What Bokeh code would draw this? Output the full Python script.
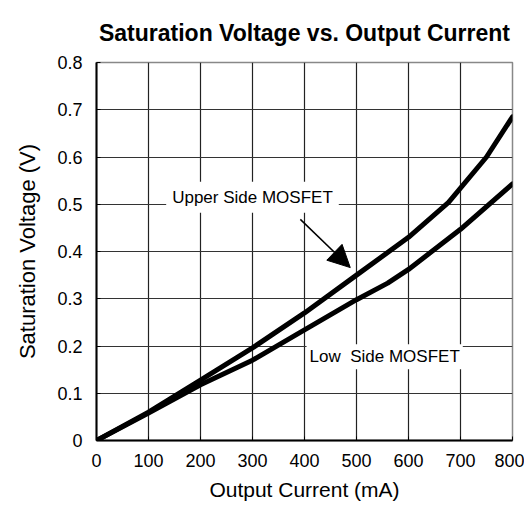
from bokeh.plotting import figure
from bokeh.models import Label, Arrow, NormalHead, Range1d, FixedTicker
from bokeh.embed import file_html
from bokeh.resources import INLINE

# data
current = [0, 100, 200, 300, 400, 500, 600, 677, 750, 800]
upper_v = [0, 0.06, 0.128, 0.196, 0.27, 0.35, 0.43, 0.504, 0.60, 0.685]
low_current = [0, 100, 200, 300, 400, 500, 560, 600, 700, 800]
low_v = [0, 0.058, 0.118, 0.17, 0.234, 0.298, 0.333, 0.362, 0.447, 0.543]
x_ticks = [0, 100, 200, 300, 400, 500, 600, 700, 800]
y_ticks = [0, 0.1, 0.2, 0.3, 0.4, 0.5, 0.6, 0.7, 0.8]

FONT = "Liberation Sans"

p = figure(width=524, height=505, output_backend="svg", toolbar_location=None,
           x_range=Range1d(0, 800), y_range=Range1d(0, 0.8),
           min_border_left=96, min_border_right=12, min_border_top=62, min_border_bottom=65,
           title="Saturation Voltage vs. Output Current")
p.title.text_font = FONT
p.title.text_font_size = "23px"
p.title.text_font_style = "bold"
p.title.align = "center"
p.title.standoff = 34
p.title.text_color = "black"

p.outline_line_color = "#888888"
p.outline_line_width = 1.5

for ax in (p.xaxis[0], p.yaxis[0]):
    ax.axis_line_color = "black"
    ax.axis_line_width = 2
    ax.major_tick_in = 4
    ax.major_tick_out = 0
    ax.minor_tick_line_color = None
    ax.major_label_text_font = FONT
    ax.major_label_text_font_size = "18px"
    ax.major_label_text_color = "black"
    ax.axis_label_text_font = FONT
    ax.axis_label_text_font_style = "normal"
    ax.axis_label_text_color = "black"

p.xaxis.axis_label_text_font_size = "21px"
p.yaxis.axis_label_text_font_size = "22px"
p.xaxis.ticker = FixedTicker(ticks=x_ticks)
p.yaxis.ticker = FixedTicker(ticks=y_ticks)
p.yaxis.major_label_overrides = {0: "0"}
p.xaxis.axis_label = "Output Current (mA)"
p.yaxis.axis_label = "Saturation Voltage (V)"
p.xaxis.major_label_standoff = 13
p.yaxis.major_label_standoff = 14
p.xaxis.axis_label_standoff = 8
p.yaxis.axis_label_standoff = 14

p.xgrid.grid_line_color = "#222222"
p.ygrid.grid_line_color = "#333333"
p.xgrid.grid_line_width = 1.2
p.ygrid.grid_line_width = 1.2

p.line(current, upper_v, line_color="black", line_width=5, line_cap="round", line_join="round")
p.line(low_current, low_v, line_color="black", line_width=5, line_cap="round", line_join="round")

upper_label = Label(x=134, y=0.515, text="Upper Side MOSFET", text_font=FONT,
                    text_font_size="17px", text_baseline="middle", text_color="black",
                    background_fill_color="white", padding=6)
low_label = Label(x=404, y=0.177, text="Low\u00a0 Side MOSFET", text_font=FONT,
                  text_font_size="17px", text_baseline="middle", text_color="black",
                  background_fill_color="white", padding=3)
p.add_layout(upper_label)
p.add_layout(low_label)

arrow = Arrow(x_start=392, y_start=0.468, x_end=488, y_end=0.366,
              line_color="black", line_width=1.5,
              end=NormalHead(size=22, fill_color="black", line_color="black"))
p.add_layout(arrow)

open("out.html", "w").write(file_html(p, INLINE))
